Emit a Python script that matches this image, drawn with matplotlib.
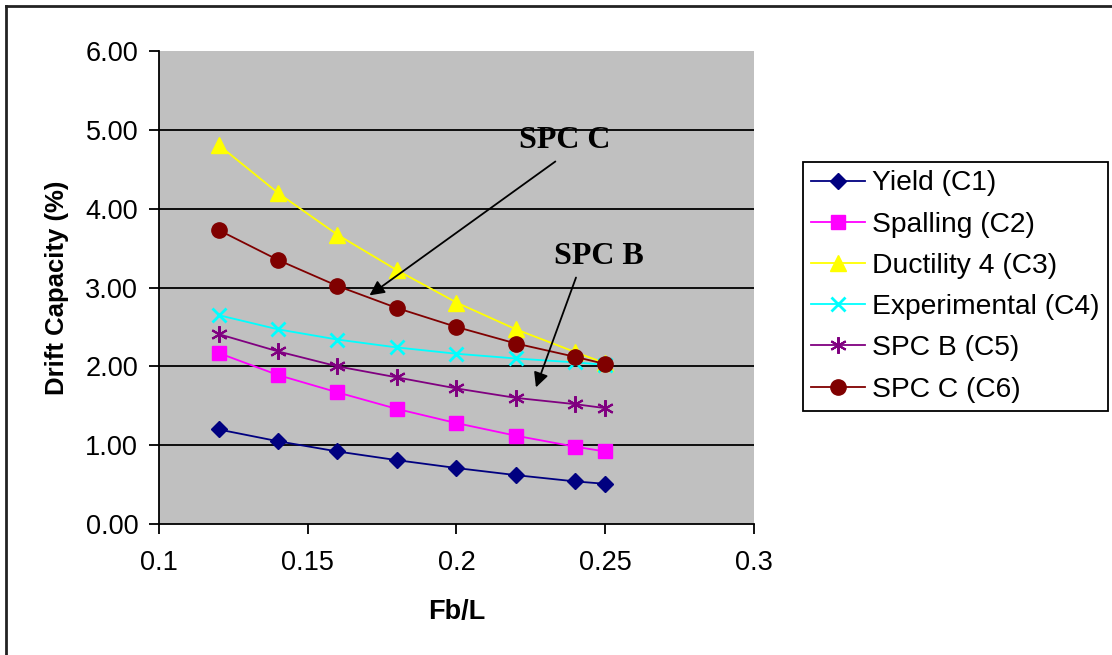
import numpy as np
from matplotlib import pyplot as plt
from matplotlib.lines import Line2D

# data
fb_l = [0.12, 0.14, 0.16, 0.18, 0.20, 0.22, 0.24, 0.25]
yield_c1 = [1.20, 1.05, 0.92, 0.81, 0.71, 0.62, 0.54, 0.51]
spalling_c2 = [2.17, 1.89, 1.67, 1.46, 1.28, 1.12, 0.98, 0.92]
ductility_c3 = [4.81, 4.20, 3.67, 3.22, 2.81, 2.47, 2.18, 2.04]
experimental_c4 = [2.65, 2.47, 2.34, 2.24, 2.16, 2.10, 2.05, 2.02]
spc_b_c5 = [2.41, 2.19, 2.00, 1.86, 1.72, 1.60, 1.52, 1.47]
spc_c_c6 = [3.73, 3.35, 3.02, 2.74, 2.50, 2.29, 2.12, 2.03]

plt.rcParams['font.family'] = ['Liberation Sans', 'DejaVu Sans']
plt.rcParams['font.size'] = 19

fig = plt.figure(figsize=(11.12, 6.55), dpi=100)
ax = fig.add_axes([0.143, 0.2, 0.535, 0.722])
ax.set_facecolor('#C0C0C0')

ax.plot(fb_l, yield_c1, color='#000080', marker='D', ms=8.5, lw=1.3, label='Yield (C1)')
ax.plot(fb_l, spalling_c2, color='#FF00FF', marker='s', ms=10, lw=1.3, label='Spalling (C2)')
ax.plot(fb_l, ductility_c3, color='#FFFF00', marker='^', ms=11, lw=1.3, label='Ductility 4 (C3)')
ax.plot(fb_l, experimental_c4, color='#00FFFF', marker='x', ms=10, mew=2, lw=1.3, label='Experimental (C4)')
ax.plot(fb_l, spc_b_c5, color='#800080', marker=(6, 2, 0), ms=12, mew=1.5, lw=1.3, label='SPC B (C5)')
ax.plot(fb_l, spc_c_c6, color='#800000', marker='o', ms=11, lw=1.3, label='SPC C (C6)')

ax.set_xlim(0.1, 0.3)
ax.set_ylim(0, 6)
ax.set_xticks([0.1, 0.15, 0.2, 0.25, 0.3])
ax.set_xticklabels(['0.1', '0.15', '0.2', '0.25', '0.3'])
ax.set_yticks(np.arange(0, 7, 1))
ax.set_yticklabels(['%.2f' % v for v in range(7)])
for y in range(1, 6):
    ax.axhline(y, color='black', lw=1.3, zorder=0.5)
ax.spines['top'].set_visible(False)
ax.spines['right'].set_visible(False)
ax.spines['left'].set_linewidth(1.3)
ax.spines['bottom'].set_linewidth(1.3)
ax.tick_params(direction='out', length=7, width=1.3, colors='black', labelsize=19.5)
ax.tick_params(axis='x', pad=12)
ax.tick_params(axis='y', pad=8)

ax.set_xlabel('Fb/L', fontweight='bold', fontsize=19.5, labelpad=16)
ax.set_ylabel('Drift Capacity (%)', fontweight='bold', fontsize=18.5, labelpad=12)

# annotations
ax.text(0.2365, 4.87, 'SPC C', family='Liberation Serif', fontweight='bold', fontsize=23,
        ha='center', va='center')
ax.annotate('', xy=(0.170, 2.88), xytext=(0.234, 4.62),
            arrowprops=dict(arrowstyle='-|>', color='black', lw=1.3, mutation_scale=22))
ax.text(0.248, 3.40, 'SPC B', family='Liberation Serif', fontweight='bold', fontsize=23,
        ha='center', va='center')
ax.annotate('', xy=(0.2264, 1.70), xytext=(0.2405, 3.16),
            arrowprops=dict(arrowstyle='-|>', color='black', lw=1.3, mutation_scale=22))

leg = fig.legend(loc='upper left', bbox_to_anchor=(803 / 1112, 1 - 162 / 655),
                 fancybox=False, edgecolor='black', framealpha=1, fontsize=20.3,
                 handlelength=1.9, handletextpad=0.25, labelspacing=0.54,
                 borderpad=0.3, borderaxespad=0)
leg.get_frame().set_linewidth(1.3)

# outer border (top and left visible in the picture)
fig.add_artist(Line2D([6 / 1112, 6 / 1112], [0, 1 - 6 / 655], color='#222222', lw=2))
fig.add_artist(Line2D([6 / 1112, 1], [1 - 6 / 655, 1 - 6 / 655], color='#222222', lw=2))

fig.savefig('out.png', dpi=100)
